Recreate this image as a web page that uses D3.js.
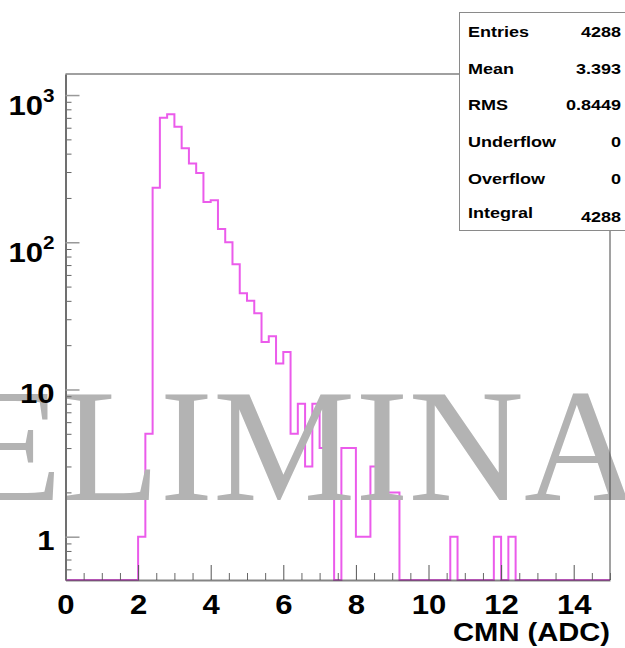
<!DOCTYPE html>
<html>
<head>
<meta charset="utf-8">
<script src="https://cdn.jsdelivr.net/npm/d3@7"></script>
<style>
  html, body { margin: 0; padding: 0; background: #fff; }
  svg { display: block; }
</style>
</head>
<body>
<svg id="chart" width="625" height="648"></svg>
<script>
// Common-mode noise histogram: 75 bins of 0.2 ADC between 0 and 15
const binWidth = 0.2;
const xMin = 0;
const xMax = 15;
const counts = [
  0, 0, 0, 0, 0, 0, 0, 0, 0, 0,            // 0.0 - 2.0
  1, 5, 235, 700, 740, 610, 435, 343, 296, 188,   // 2.0 - 4.0
  193, 123, 100, 71, 45, 40, 33, 21, 23, 15,      // 4.0 - 6.0
  18, 5, 8, 3, 8, 4, 2, 0, 4, 4,                  // 6.0 - 8.0
  1, 1, 3, 3, 2, 2, 0, 0, 0, 0,                   // 8.0 - 10.0
  0, 0, 0, 1, 0, 0, 0, 0, 0, 1,                   // 10.0 - 12.0
  0, 1, 0, 0, 0, 0, 0, 0, 0, 0,                   // 12.0 - 14.0
  0, 0, 0, 0, 0                                   // 14.0 - 15.0
];

// Axis tick values and labels
const xMajorTicks = [0, 2, 4, 6, 8, 10, 12, 14];
const xMinorTicks = [0.5, 1, 1.5, 2.5, 3, 3.5, 4.5, 5, 5.5, 6.5, 7, 7.5, 8.5, 9, 9.5,
                     10.5, 11, 11.5, 12.5, 13, 13.5, 14.5, 15];
const yMajorTicks = [1, 10, 100, 1000];
const yTickBase = ["1", "10", "10", "10"];
const yTickExp = ["", "", "2", "3"];
const yMinorTicks = [0.6, 0.7, 0.8, 0.9,
                     2, 3, 4, 5, 6, 7, 8, 9,
                     20, 30, 40, 50, 60, 70, 80, 90,
                     200, 300, 400, 500, 600, 700, 800, 900];
const yDomain = [0.508, 1390];
const xTitle = "CMN (ADC)";
const watermark = "PRELIMINARY";

// Statistics box
const statLabels = ["Entries", "Mean", "RMS", "Underflow", "Overflow", "Integral"];
const statValues = ["4288", "3.393", "0.8449", "0", "0", "4288"];

const frame = { left: 65.5, right: 610, top: 74, bottom: 580 };
const sansBold = "'Liberation Sans', Arial, Helvetica, sans-serif";

const svg = d3.select("#chart");
svg.append("rect").attr("width", 625).attr("height", 648).attr("fill", "#fff");

const x = d3.scaleLinear().domain([xMin, xMax]).range([frame.left, frame.right]);
const y = d3.scaleLog().domain(yDomain).range([frame.bottom, frame.top]);

// stretch rendered text horizontally to a wider set width
function widen(sel, f) {
  sel.each(function () {
    const w = this.getComputedTextLength();
    d3.select(this).attr("textLength", w * f).attr("lengthAdjust", "spacingAndGlyphs");
  });
}

// ---- histogram outline (step line) ----
const pts = counts.map((c, i) => [xMin + i * binWidth, c]);
pts.push([xMax, counts[counts.length - 1]]);
const step = d3.line()
  .x(d => x(d[0]))
  .y(d => y(Math.max(d[1], yDomain[0])))
  .curve(d3.curveStepAfter);
svg.append("path")
  .attr("d", step(pts))
  .attr("fill", "none")
  .attr("stroke", "#eb5beb")
  .attr("stroke-width", 2);

// ---- watermark ----
const wm = svg.append("text")
  .attr("y", 500)
  .attr("font-family", "'Liberation Serif', 'Times New Roman', serif")
  .attr("font-size", 160)
  .attr("fill", "#b3b3b3")
  .text(watermark);
const preW = wm.node().getSubStringLength(0, 3);
wm.attr("x", 62 - preW);

// ---- frame: top and right ----
svg.append("line")
  .attr("x1", frame.left).attr("x2", frame.right)
  .attr("y1", frame.top).attr("y2", frame.top)
  .attr("stroke", "#808080").attr("stroke-width", 1.5);
svg.append("line")
  .attr("x1", frame.right).attr("x2", frame.right)
  .attr("y1", frame.top).attr("y2", frame.bottom)
  .attr("stroke", "#444").attr("stroke-width", 1);

// ---- x axis ----
const gxMinor = svg.append("g").attr("transform", `translate(0,${frame.bottom})`)
  .call(d3.axisBottom(x).tickValues(xMinorTicks).tickSizeInner(-7).tickSizeOuter(0).tickFormat(""));
gxMinor.select(".domain").remove();
gxMinor.selectAll(".tick line").attr("stroke", "#666").attr("stroke-width", 1);

const gx = svg.append("g").attr("transform", `translate(0,${frame.bottom})`)
  .call(d3.axisBottom(x).tickValues(xMajorTicks).tickSizeInner(-15).tickSizeOuter(0)
    .tickPadding(15).tickFormat(d3.format("d")));
gx.select(".domain").attr("stroke", "#444").attr("stroke-width", 2).attr("stroke-opacity", 0.65);
gx.selectAll(".tick line").attr("stroke", "#555").attr("stroke-width", 1);
gx.selectAll(".tick text")
  .attr("font-family", sansBold).attr("font-weight", "bold").attr("font-size", 27)
  .attr("fill", "#000");
widen(gx.selectAll(".tick text"), 1.15);

// ---- y axis ----
const gyMinor = svg.append("g").attr("transform", `translate(${frame.left},0)`)
  .call(d3.axisLeft(y).tickValues(yMinorTicks).tickSizeInner(-6).tickSizeOuter(0).tickFormat(""));
gyMinor.select(".domain").remove();
gyMinor.selectAll(".tick line").attr("stroke", "#666").attr("stroke-width", 1);

const gy = svg.append("g").attr("transform", `translate(${frame.left},0)`)
  .call(d3.axisLeft(y).tickValues(yMajorTicks).tickSizeInner(-14).tickSizeOuter(0)
    .tickPadding(11).tickFormat(""));
gy.select(".domain").attr("stroke", "#707070").attr("stroke-width", 2);
gy.selectAll(".tick line").attr("stroke", "#999").attr("stroke-width", 1.5);
gy.selectAll(".tick text").each(function (d, i) {
  const t = d3.select(this);
  t.text(null)
    .attr("font-family", sansBold).attr("font-weight", "bold").attr("font-size", 27)
    .attr("fill", "#000")
    .attr("dy", yTickExp[i] ? 19 : 13);
  t.append("tspan").text(yTickBase[i]);
  if (yTickExp[i]) t.append("tspan").attr("dy", -13).attr("font-size", 18).text(yTickExp[i]);
});
widen(gy.selectAll(".tick text"), 1.15);

// ---- x axis title ----
const xt = svg.append("text")
  .attr("x", frame.right).attr("y", 641)
  .attr("text-anchor", "end")
  .attr("font-family", sansBold).attr("font-weight", "bold").attr("font-size", 26)
  .attr("fill", "#000")
  .text(xTitle);
widen(xt, 1.12);

// ---- statistics box ----
const box = svg.append("g");
box.append("rect")
  .attr("x", 459.5).attr("y", 12.5).attr("width", 175).attr("height", 218)
  .attr("fill", "#fff").attr("stroke", "#8a8a8a").attr("stroke-width", 1);
const labelY = [37, 74, 110, 147, 184, 218];
const valueY = [37, 74, 110, 147, 184, 222];
const sl = box.selectAll("text.lab").data(statLabels).join("text")
  .attr("class", "lab")
  .attr("x", 468).attr("y", (d, i) => labelY[i])
  .attr("font-family", sansBold).attr("font-weight", "bold").attr("font-size", 15)
  .attr("fill", "#000")
  .text(d => d);
widen(sl, 1.2);
const sv = box.selectAll("text.val").data(statValues).join("text")
  .attr("class", "val")
  .attr("x", 621).attr("y", (d, i) => valueY[i])
  .attr("text-anchor", "end")
  .attr("font-family", sansBold).attr("font-weight", "bold").attr("font-size", 15)
  .attr("fill", "#000")
  .text(d => d);
widen(sv, 1.2);
</script>
</body>
</html>
